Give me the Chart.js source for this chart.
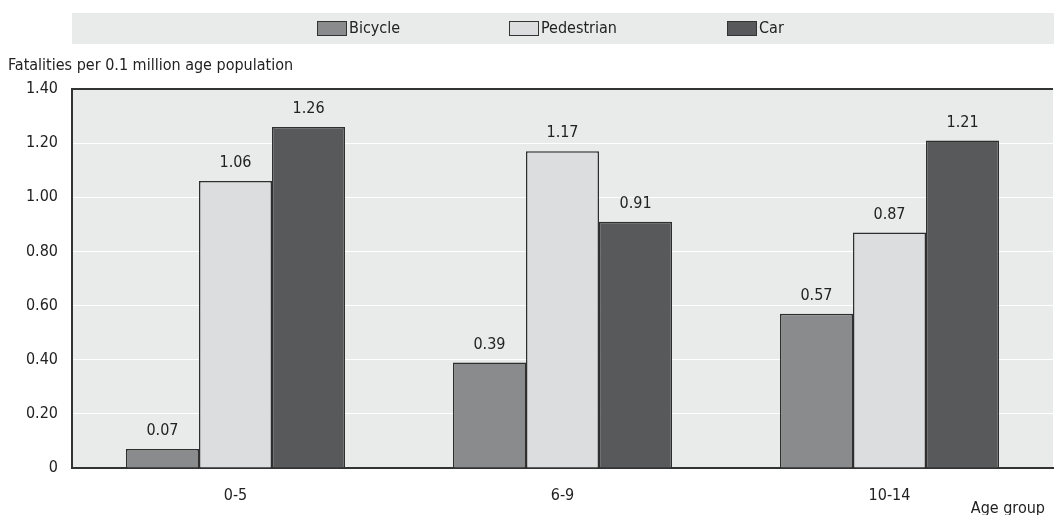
<!DOCTYPE html>
<html>
<head>
<meta charset="utf-8">
<script src="https://cdn.jsdelivr.net/npm/chart.js@4/dist/chart.umd.min.js"></script>
<style>
  html, body { margin: 0; padding: 0; background: #fff; }
  #wrap { width: 1054px; height: 515px; }
</style>
</head>
<body>
<div id="wrap"><canvas id="myChart"></canvas></div>
<script>
const FONT = "'Liberation Sans Narrow', 'DejaVu Sans Condensed', 'Arial Narrow', sans-serif";

const ageGroups = ['0-5', '6-9', '10-14'];
const bicycle = [0.07, 0.39, 0.57];
const pedestrian = [1.06, 1.17, 0.87];
const car = [1.26, 0.91, 1.21];
const seriesNames = ['Bicycle', 'Pedestrian', 'Car'];
const yTicks = [0, 0.2, 0.4, 0.6, 0.8, 1.0, 1.2, 1.4];

// fonds gris + légende + étiquettes
const decor = {
    id: 'decor',
    beforeDraw(chart) {
        const c = chart.ctx, a = chart.chartArea;
        c.save();
        c.fillStyle = '#e9eaea';
        c.fillRect(72, 13, 982, 31);
        c.fillRect(a.left, a.top, a.right - a.left, a.bottom - a.top);
        c.restore();
    },
    afterDraw(chart) {
        const c = chart.ctx;
        c.save();
        c.font = '16px ' + FONT;
        c.fillStyle = '#222';
        c.textBaseline = 'middle';
        c.textAlign = 'left';
        c.fillText('Fatalities per 0.1 million age population', 8, 66);

        // légende
        const boxX = [317, 509, 727];
        chart.data.datasets.forEach((ds, i) => {
            c.fillStyle = ds.backgroundColor;
            c.fillRect(boxX[i], 21, 30, 15);
            c.strokeStyle = '#333';
            c.lineWidth = 1;
            c.strokeRect(boxX[i] + 0.5, 21.5, 29, 14);
            c.fillStyle = '#222';
            c.fillText(ds.label, boxX[i] + 32, 29);
        });

        c.textAlign = 'right';
        c.fillText('Age group', 1045, 509);

        // valeurs au-dessus des barres
        c.textAlign = 'center';
        c.textBaseline = 'bottom';
        chart.data.datasets.forEach((ds, i) => {
            chart.getDatasetMeta(i).data.forEach((bar, j) => {
                c.fillText(ds.data[j].toFixed(2), bar.x, bar.y - 10);
            });
        });
        c.restore();
    }
};

const ctx = document.getElementById('myChart').getContext('2d');
new Chart(ctx, {
    type: 'bar',
    data: {
        labels: ageGroups,
        datasets: [
            { label: seriesNames[0], data: bicycle, backgroundColor: '#8a8b8c' },
            { label: seriesNames[1], data: pedestrian, backgroundColor: '#dcdddf' },
            { label: seriesNames[2], data: car, backgroundColor: '#58595b' }
        ]
    },
    options: {
        responsive: true,
        maintainAspectRatio: false,
        animation: false,
        devicePixelRatio: 1,
        layout: { padding: { top: 89, right: 1, left: 0, bottom: 0 } },
        datasets: {
            bar: {
                borderColor: '#2e2e2e',
                borderWidth: 1.5,
                barPercentage: 1,
                categoryPercentage: 0.67
            }
        },
        plugins: {
            legend: { display: false },
            tooltip: { enabled: false }
        },
        scales: {
            x: {
                grid: { display: false },
                border: { display: true, color: '#333', width: 2 },
                ticks: { color: '#222', font: { family: FONT, size: 16 }, padding: 10 },
                afterFit(s) { s.height = 47; }
            },
            y: {
                min: 0,
                max: 1.4,
                afterBuildTicks(s) { s.ticks = yTicks.map(v => ({ value: v })); },
                ticks: {
                    color: '#222',
                    font: { family: FONT, size: 16 },
                    padding: 14,
                    callback: v => v === 0 ? '0' : v.toFixed(2)
                },
                grid: {
                    drawTicks: false,
                    color: c => (c.tick && (c.tick.value === 1.4)) ? '#333' : '#ffffff',
                    lineWidth: c => (c.tick && c.tick.value === 1.4) ? 2 : 1
                },
                border: { display: true, color: '#333', width: 2 },
                afterFit(s) { s.width = 72; }
            }
        }
    },
    plugins: [decor]
});
</script>
</body>
</html>
